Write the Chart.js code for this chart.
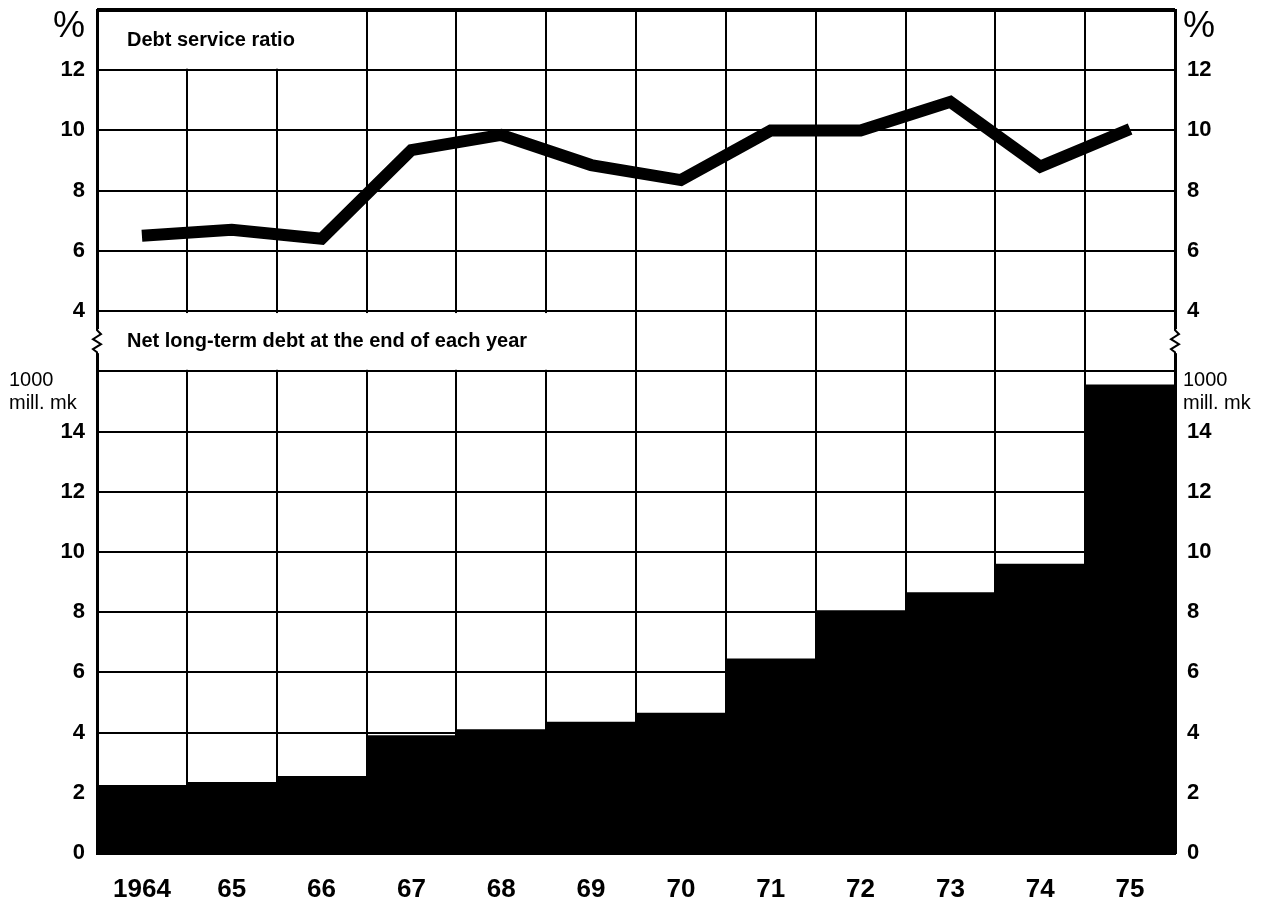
<!DOCTYPE html>
<html>
<head>
<meta charset="utf-8">
<script src="https://cdn.jsdelivr.net/npm/chart.js@4/dist/chart.umd.min.js"></script>
<style>
  body { margin: 0; background: #fff; }
</style>
</head>
<body>
<canvas id="chart" width="1272" height="901"></canvas>
<script>
// data
const years = ["1964", "65", "66", "67", "68", "69", "70", "71", "72", "73", "74", "75"];
const debtRatio = [6.5, 6.7, 6.4, 9.35, 9.85, 8.85, 8.35, 10.0, 10.0, 10.95, 8.8, 10.05];
const netDebt = [2.25, 2.35, 2.55, 3.9, 4.1, 4.35, 4.65, 6.45, 8.05, 8.65, 9.6, 15.55];
const ratioTicks = [4, 6, 8, 10, 12];
const debtTicks = [0, 2, 4, 6, 8, 10, 12, 14];
const ratioTitle = "Debt service ratio";
const debtTitle = "Net long-term debt at the end of each year";

const FONT = "'Liberation Sans', Arial, sans-serif";

function tickFont() {
  return { family: FONT, size: 22, weight: "bold" };
}

// left / right axes for each panel
function yAxis(position, stack, min, max, weight, shown) {
  return {
    type: "linear",
    position: position,
    stack: stack,
    stackWeight: weight,
    min: min,
    max: max,
    afterBuildTicks: (s) => {
      s.ticks = [];
      for (let v = min; v <= max; v += 2) s.ticks.push({ value: v });
    },
    afterFit: (s) => {
      s.width = 97;
      s.paddingTop = 0;
      s.paddingBottom = 0;
    },
    grid: {
      color: "#000",
      lineWidth: (c) => (c.tick && c.tick.value === 14 && max === 14 ? 4 : 2),
      drawTicks: false,
    },
    border: { color: "#000", width: 3 },
    ticks: {
      color: "#000",
      font: tickFont(),
      padding: 12,
      callback: (v) => (shown.includes(v) ? String(v) : ""),
    },
  };
}

// label boxes, break marks and unit texts
const decorations = {
  id: "decorations",
  beforeDatasetsDraw(chart) {
    const { ctx, chartArea: a, scales } = chart;
    const x = scales.x, yt = scales.yTop;
    const colW = x.getPixelForValue(1) - x.getPixelForValue(0);
    const boxes = [
      { text: ratioTitle, cols: 3, top: 14, bottom: 12 },
      { text: debtTitle, cols: 6, top: 4, bottom: 2 },
    ];
    ctx.save();
    boxes.forEach((b) => {
      const y0 = yt.getPixelForValue(b.top), y1 = yt.getPixelForValue(b.bottom);
      ctx.fillStyle = "#fff";
      ctx.fillRect(a.left + 2, y0 + 2, b.cols * colW - 3, y1 - y0 - 3.5);
      ctx.fillStyle = "#000";
      ctx.font = "bold 20px " + FONT;
      ctx.textBaseline = "middle";
      ctx.textAlign = "left";
      ctx.fillText(b.text, a.left + 30, (y0 + y1) / 2);
    });

    // axis break zigzags
    const yMid = (yt.getPixelForValue(4) + yt.getPixelForValue(2)) / 2;
    [a.left, a.right].forEach((bx) => {
      ctx.fillStyle = "#fff";
      ctx.fillRect(bx - 3, yMid - 12, 6, 24);
      ctx.strokeStyle = "#000";
      ctx.lineWidth = 2;
      ctx.beginPath();
      ctx.moveTo(bx, yMid - 13);
      ctx.lineTo(bx, yMid - 11);
      ctx.lineTo(bx + 4, yMid - 7);
      ctx.lineTo(bx - 4, yMid - 2);
      ctx.lineTo(bx + 4, yMid + 3);
      ctx.lineTo(bx - 4, yMid + 8);
      ctx.lineTo(bx, yMid + 11);
      ctx.lineTo(bx, yMid + 13);
      ctx.stroke();
    });
    ctx.restore();
  },
  afterDraw(chart) {
    const { ctx, chartArea: a, scales } = chart;
    const yb = scales.yBot;
    ctx.save();
    ctx.fillStyle = "#000";
    ctx.textBaseline = "middle";
    ctx.font = "36px " + FONT;
    ctx.textAlign = "right";
    ctx.fillText("%", a.left - 12, a.top + 17);
    ctx.textAlign = "left";
    ctx.fillText("%", a.right + 8, a.top + 17);

    const yUnit = yb.getPixelForValue(16);
    ctx.font = "20px " + FONT;
    [9, a.right + 8].forEach((ux) => {
      ctx.fillText("1000", ux, yUnit + 9);
      ctx.fillText("mill. mk", ux, yUnit + 32);
    });
    ctx.restore();
  },
};

const ctx = document.getElementById("chart").getContext("2d");
const debtChart = new Chart(ctx, {
  type: "bar",
  data: {
    labels: years,
    datasets: [
      {
        type: "line",
        label: ratioTitle,
        data: debtRatio,
        yAxisID: "yTop",
        borderColor: "#000",
        borderWidth: 12,
        borderCapStyle: "butt",
        borderJoinStyle: "miter",
        pointRadius: 0,
        tension: 0,
        fill: false,
      },
      {
        label: debtTitle,
        data: netDebt,
        yAxisID: "yBot",
        backgroundColor: "#000",
        borderWidth: 0,
        barPercentage: 1,
        categoryPercentage: 1,
      },
    ],
  },
  options: {
    responsive: false,
    animation: false,
    layout: { padding: { top: 10 } },
    plugins: {
      legend: { display: false },
      tooltip: { enabled: false },
    },
    scales: {
      x: {
        type: "category",
        offset: true,
        afterFit: (s) => { s.height = 48; },
        grid: { color: "#000", lineWidth: 2, offset: true, drawTicks: false },
        border: { color: "#000", width: 3 },
        ticks: {
          color: "#000",
          font: { family: FONT, size: 26, weight: "bold" },
          padding: 21,
        },
      },
      // left stack is laid out in reverse order, so the lower panel comes first
      yBot: yAxis("left", "left", 0, 16, 16, debtTicks),
      yTop: yAxis("left", "left", 2, 14, 12, ratioTicks),
      rTop: yAxis("right", "right", 2, 14, 12, ratioTicks),
      rBot: yAxis("right", "right", 0, 16, 16, debtTicks),
    },
  },
  plugins: [decorations],
});
</script>
</body>
</html>
